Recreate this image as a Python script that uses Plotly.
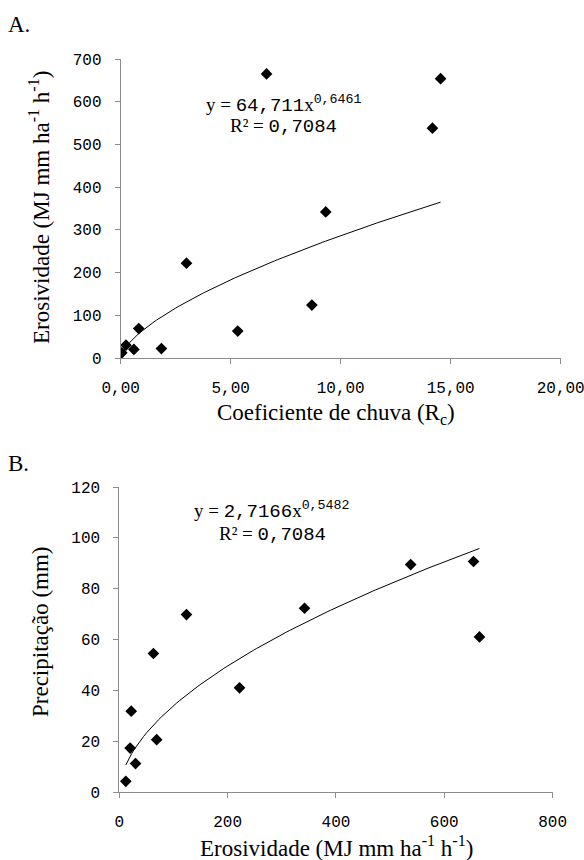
import numpy as np
import plotly.graph_objects as go

# ---- data ----
rc = [0.05, 0.24, 0.60, 0.82, 1.85, 2.99, 5.32, 6.63, 8.69, 9.32, 14.17, 14.54]
erosividade = [12, 30, 20, 69, 22, 222, 63, 665, 124, 342, 538, 654]
precipitacao = [4.2, 11.2, 17.3, 20.6, 31.8, 41.0, 54.5, 61.0, 69.8, 72.3, 89.5, 90.7]

# trendline coefficients (power fit shown on the chart)
a_A, b_A = 64.711, 0.6461
a_B, b_B = 2.7166, 0.5482

xticks_A = [0, 5, 10, 15, 20]
xticktext_A = ["0,00", "5,00", "10,00", "15,00", "20,00"]
yticks_A = [0, 100, 200, 300, 400, 500, 600, 700]
xticks_B = [0, 200, 400, 600, 800]
yticks_B = [0, 20, 40, 60, 80, 100, 120]

W, H = 584, 860
def px_x(p): return p / W
def px_y(p): return 1 - p / H

fitA_x = np.linspace(min(rc), max(rc), 120)
fitA_y = a_A * fitA_x ** b_A
fitB_x = np.linspace(min(erosividade), max(erosividade), 120)
fitB_y = a_B * fitB_x ** b_B

fig = go.Figure()
mk = dict(symbol="diamond", size=9, color="black")
fig.add_trace(go.Scatter(x=rc, y=erosividade, mode="markers", marker=mk,
                         xaxis="x", yaxis="y", showlegend=False))
fig.add_trace(go.Scatter(x=fitA_x, y=fitA_y, mode="lines", line=dict(color="black", width=1),
                         xaxis="x", yaxis="y", showlegend=False))
fig.add_trace(go.Scatter(x=erosividade, y=precipitacao, mode="markers", marker=mk,
                         xaxis="x2", yaxis="y2", showlegend=False))
fig.add_trace(go.Scatter(x=fitB_x, y=fitB_y, mode="lines", line=dict(color="black", width=1),
                         xaxis="x2", yaxis="y2", showlegend=False))

tickfont = dict(family="Liberation Mono", size=16, color="black")
axcommon = dict(showgrid=False, zeroline=False, showline=True, linecolor="#8c8c8c", linewidth=1,
                ticks="outside", ticklen=5, tickcolor="#8c8c8c", tickfont=tickfont,
                automargin=False, fixedrange=True, ticklabelstandoff=10,
                ticklabeloverflow="allow")

fig.update_layout(
    width=W, height=H, margin=dict(l=0, r=0, t=0, b=0),
    paper_bgcolor="white", plot_bgcolor="white",
    xaxis=dict(axcommon, domain=[px_x(120.7), px_x(560.7)], range=[0, 20.0001], tickvals=xticks_A,
               ticktext=xticktext_A, anchor="y"),
    yaxis=dict(axcommon, domain=[px_y(358), px_y(59)], range=[0, 700.01], tickvals=yticks_A,
               anchor="x"),
    xaxis2=dict(axcommon, domain=[px_x(119.3), px_x(552.6)], range=[0, 800.01], tickvals=xticks_B,
                anchor="y2"),
    yaxis2=dict(axcommon, domain=[px_y(792), px_y(487)], range=[0, 120.01], tickvals=yticks_B,
                anchor="x2"),
)

serif = "Liberation Serif"
mono = "Liberation Mono"
TS = 23
ann = []
def paper_ann(text, x, y, size, angle=0, xanchor="center"):
    return dict(text=text, x=px_x(x), y=px_y(y), xref="paper", yref="paper",
                xanchor=xanchor, yanchor="middle", showarrow=False, textangle=angle,
                font=dict(family=serif, size=size, color="black"))

ann.append(paper_ann("A.", 6, 24, 23, xanchor="left"))
ann.append(paper_ann("B.", 6, 463, 23, xanchor="left"))
ann.append(paper_ann("Coeficiente de chuva (R<sub>c</sub>)", 336, 414, TS))
ann.append(paper_ann("Erosividade (MJ mm ha<sup>-1</sup> h<sup>-1</sup>)", 40, 208, TS, angle=-90))
ann.append(paper_ann("Erosividade (MJ mm ha<sup>-1</sup> h<sup>-1</sup>)", 336, 846, TS))
ann.append(paper_ann("Precipitação (mm)", 40, 632, TS, angle=-90))

EQ = 19
def m(s):
    return "<span style='font-family:%s'>%s</span>" % (mono, s)

def eq_rows(a, b, r2, x, y1, y2, xr, yr):
    row1 = "y = %sx<sup>%s</sup>" % (m(a), m(b))
    row2 = "R² = %s" % m(r2)
    out = []
    for txt, yy in ((row1, y1), (row2, y2)):
        out.append(dict(text=txt, x=x, y=yy, xref=xr, yref=yr, showarrow=False,
                        xanchor="center", yanchor="middle",
                        font=dict(family=serif, size=EQ, color="black")))
    return out

ann += eq_rows("64,711", "0,6461", "0,7084", 7.4, 594, 541, "x", "y")
ann += eq_rows("2,7166", "0,5482", "0,7084", 282, 110.9, 101.5, "x2", "y2")
fig.update_layout(annotations=ann)

fig.write_html("out.html")
